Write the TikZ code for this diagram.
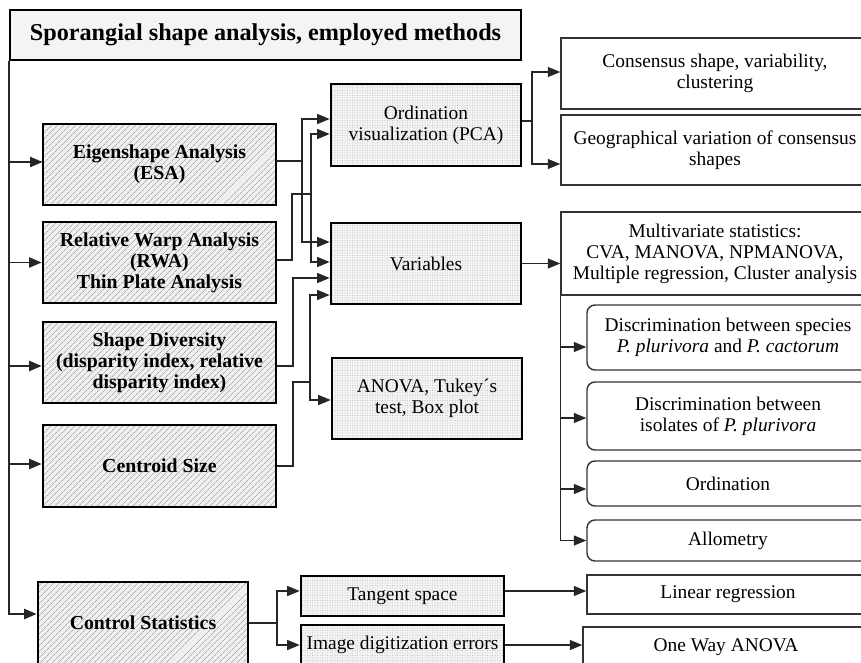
\documentclass[tikz,border=0pt]{standalone}
\usepackage{fontspec}
\setmainfont{Liberation Serif}
\usetikzlibrary{arrows.meta,patterns.meta,calc}
\begin{document}
\begin{tikzpicture}[x=1pt,y=-1pt,
  every node/.style={inner sep=0pt, align=center, text=black, font=\fontsize{19.4}{21}\selectfont},
  hatchbox/.style={draw=black, line width=2.6pt, preaction={fill=gray!12},
    pattern={Lines[angle=45,distance=4pt,line width=0.7pt]}, pattern color=gray!65,
    font=\bfseries\fontsize{19.8}{21}\selectfont},
  dotbox/.style={draw=black, line width=2.6pt, preaction={fill=gray!9},
    pattern={Dots[distance=2.5pt,radius=0.5pt]}, pattern color=gray!55},
  plainbox/.style={draw=black!80, line width=1.4pt, fill=white},
  roundbox/.style={plainbox, rounded corners=8pt},
  conn/.style={draw=black!85, line width=1.3pt},
  arr/.style={conn, -{Triangle[length=12.5pt,width=10pt]}},
]
\useasboundingbox (0,0) rectangle (861,663);
\begin{scope}
\clip (0,0) rectangle (861,663);
\fill[white] (0,0) rectangle (861,663);

% title
\node[draw=black, line width=2pt, fill=gray!9, minimum width=511pt, minimum height=50pt,
  font=\bfseries\fontsize{24.2}{26}\selectfont] (title) at (265.5,35) {Sporangial shape analysis, employed methods};

% left hatched boxes
\node[hatchbox, minimum width=233pt, minimum height=81pt] (ESA) at (159.5,164.5) {Eigenshape Analysis\\(ESA)};
\node[hatchbox, minimum width=233pt, minimum height=81pt] (RWA) at (159.5,262.5) {Relative Warp Analysis\\(RWA)\\Thin Plate Analysis};
\node[hatchbox, minimum width=233pt, minimum height=81pt] (SD) at (159.5,362.5) {Shape Diversity\\(disparity index, relative\\disparity index)};
\node[hatchbox, minimum width=233pt, minimum height=82pt] (CS) at (159.5,466) {Centroid Size};
\node[hatchbox, minimum width=210pt, minimum height=82pt] (Ctrl) at (143,623) {Control Statistics};

% middle dotted boxes
\node[dotbox, minimum width=190pt, minimum height=82pt] (Ord) at (426,125) {Ordination\\visualization (PCA)};
\node[dotbox, minimum width=190pt, minimum height=81pt] (Var) at (426,263.5) {Variables};
\node[dotbox, minimum width=190pt, minimum height=81pt] (ANOVA) at (427,398.5) {ANOVA, Tukey´s\\test, Box plot};
\node[dotbox, minimum width=203pt, minimum height=40pt] (Tan) at (402.5,596) {Tangent space};
\node[dotbox, minimum width=203pt, minimum height=40pt] (Img) at (402.5,645) {Image digitization errors};

% right boxes
\node[plainbox, minimum width=308pt, minimum height=71pt] (Cons) at (715,73.5) {Consensus shape, variability,\\clustering};
\node[plainbox, minimum width=308pt, minimum height=70pt] (Geo) at (715,150) {Geographical variation of consensus\\shapes};
\node[plainbox, minimum width=308pt, minimum height=83pt] (Multi) at (715,253.5) {Multivariate statistics:\\CVA, MANOVA, NPMANOVA,\\Multiple regression, Cluster analysis};
\node[roundbox, minimum width=282pt, minimum height=65pt] (Disc1) at (728,337.5) {Discrimination between species\\\textit{P. plurivora} and \textit{P. cactorum}};
\node[roundbox, minimum width=282pt, minimum height=68pt] (Disc2) at (728,416) {Discrimination between\\isolates of \textit{P. plurivora}};
\node[roundbox, minimum width=282pt, minimum height=45pt] (OrdR) at (728,483.5) {Ordination};
\node[roundbox, minimum width=282pt, minimum height=41pt] (Allo) at (728,540.5) {Allometry};
\node[plainbox, minimum width=282pt, minimum height=39pt] (Lin) at (728,594.5) {Linear regression};
\node[plainbox, minimum width=286pt, minimum height=40pt] (OneWay) at (726,647) {One Way ANOVA};

% helper coordinates
\coordinate (spine) at (10,0);
\coordinate (tA) at (302,0);
\coordinate (tB) at (311,0);
\coordinate (xR) at (292,0);
\coordinate (jB) at (311,194);
\coordinate (xS) at (293,0);
\coordinate (jC) at (310,382);
\coordinate (tD) at (532,0);
\coordinate (tE) at (277,0);
\coordinate (o1) at ([yshift=6pt]Ord.west);
\coordinate (o2) at ([yshift=-9pt]Ord.west);
\coordinate (v1) at ([yshift=21.5pt]Var.west);
\coordinate (v2) at ([yshift=1.5pt]Var.west);
\coordinate (v3) at ([yshift=-14.5pt]Var.west);
\coordinate (v4) at ([yshift=-31.5pt]Var.west);
\coordinate (an1) at ([yshift=-1.5pt]ANOVA.west);
\coordinate (c1) at ([yshift=1.5pt]Cons.west);
\coordinate (g1) at ([yshift=-14pt]Geo.west);
\coordinate (d1) at ([yshift=-9.5pt]Disc1.west);
\coordinate (d2) at ([yshift=-2pt]Disc2.west);
\coordinate (d3) at ([yshift=-5.5pt]OrdR.west);
\coordinate (t1) at ([yshift=5pt]Tan.west);
\coordinate (t2) at ([yshift=5pt]Tan.east);
\coordinate (ct) at ([yshift=9pt]Ctrl.west);

% spine and arrows into left boxes
\draw[arr, line width=2.2pt] (title.south west) |- (ct);
\draw[arr, line width=1.9pt] ([yshift=2.5pt]ESA.west -| spine) -- ([yshift=2.5pt]ESA.west);
\draw[arr, line width=1.9pt] (RWA.west -| spine) -- (RWA.west);
\draw[arr, line width=1.9pt] ([yshift=-3.5pt]SD.west -| spine) -- ([yshift=-3.5pt]SD.west);
\draw[arr, line width=1.9pt] ([yshift=2pt]CS.west -| spine) -- ([yshift=2pt]CS.west);

% ESA
\draw[arr] ([yshift=3.5pt]ESA.east) -| (tA |- o1) -- (o1);
\draw[arr] ([yshift=3.5pt]ESA.east) -| (tA |- v1) -- (v1);
% RWA
\draw[arr] ([yshift=2.5pt]RWA.east) -| (xR |- jB) -- (jB) |- (o2);
\draw[arr] (jB) |- (v2);
% Shape diversity
\draw[arr] ([yshift=-3.5pt]SD.east) -| (xS |- v3) -- (v3);
% Centroid size
\draw[arr] (CS.east) -| (xS |- jC) -- (jC) |- (v4);
\draw[arr] (jC) |- (an1);

% Ordination to right
\draw[arr] ([yshift=4pt]Ord.east) -| (tD |- c1) -- (c1);
\draw[arr] ([yshift=4pt]Ord.east) -| (tD |- g1) -- (g1);
% Variables to multivariate
\draw[arr] (Var.east) -- (Var.east -| Multi.west);
% multivariate branch
\draw[arr] (Multi.south west) |- (Allo.west);
\draw[arr] (Multi.south west |- d1) -- (d1);
\draw[arr] (Multi.south west |- d2) -- (d2);
\draw[arr] (Multi.south west |- d3) -- (d3);

% control statistics
\draw[arr] (Ctrl.east) -| (tE |- t1) -- (t1);
\draw[arr] (Ctrl.east) -| (tE |- Img.west) -- (Img.west);
\draw[arr] (t2) -- (t2 -| Lin.west);
\draw[arr] (Img.east) -- (Img.east -| OneWay.west);
\end{scope}
\end{tikzpicture}
\end{document}
